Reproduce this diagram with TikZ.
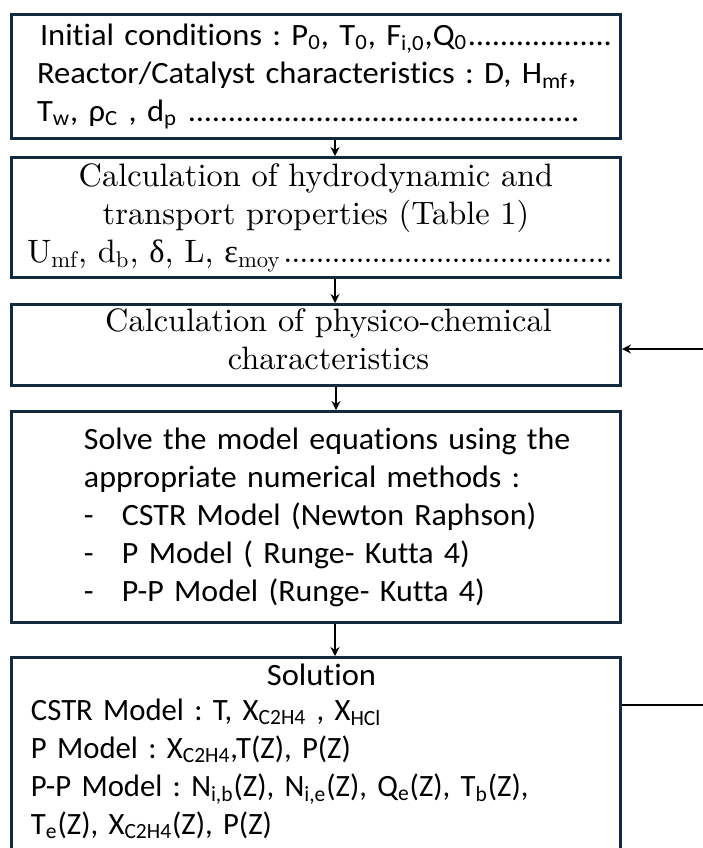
\documentclass[tikz,border=0pt]{standalone}
\usepackage{fontspec}
\usepackage{tikz}
\usetikzlibrary{positioning, arrows.meta}
\newfontfamily\boxsf{Carlito}[FakeStretch=1.05, Ligatures=NoCommon]
\newfontfamily\solvesf{Carlito}[FakeStretch=1.03, Ligatures=NoCommon]
\newfontfamily\solsf{Carlito}[FakeStretch=0.99, Ligatures=NoCommon]
\newfontfamily\lmten{lmroman10-regular}[Extension=.otf]
\newfontfamily\grk{Liberation Serif}
\definecolor{navy}{HTML}{13293D}
\newcommand\sansbody{\boxsf\fontsize{15.5}{19}\selectfont\frenchspacing}
\newcommand\solvebody{\solvesf\fontsize{15.5}{19}\selectfont\frenchspacing}
\newcommand\solbody{\solsf\fontsize{15.5}{19}\selectfont\frenchspacing}
\newcommand\serifbody{\lmten\fontsize{16.2}{19}\selectfont\frenchspacing}
\newcommand\dotrow{\leaders\hbox to 4pt{\hss.\hss}\hfill\null}
\tikzset {
    >={Stealth[length=4.5pt,width=4.5pt]},
    node distance=8pt,
    box/.style={draw=navy, line width=1.5pt, text width=296pt,
        inner xsep=4.25pt, inner ysep=1pt, minimum width=304.5pt},
    flow/.style={->, line width=1pt}
}

\begin{document}
\begin{tikzpicture}
    \useasboundingbox (0,0) rectangle (351.5pt,-424pt);

    \node[box, anchor=north west, minimum height=62pt, align=left, font=\sansbody] (init) at (5pt,-6.5pt)
        {\leftskip=8.5pt \hspace*{1.5pt}Initial conditions : P\textsubscript{0}, T\textsubscript{0}, F\textsubscript{i,0},Q\textsubscript{0}\dotrow\\
         Reactor/Catalyst characteristics : D, H\textsubscript{mf},\\
         T\textsubscript{w}, ρ\textsubscript{C} , d\textsubscript{p}\,\dotrow\hspace*{14pt}\par};
    \node[box, below=of init, minimum height=60pt, align=center, font=\serifbody] (hydro)
        {Calculation of hydrodynamic and\hspace*{6.5pt}\\
         transport properties (Table 1)\hspace*{6.5pt}\\
         \hspace*{3.5pt}U\textsubscript{mf}, d\textsubscript{b}, {\grk δ}, L, {\grk ε}\textsubscript{moy}\dotrow\hspace*{16.5pt}};
    \node[box, below=12pt of hydro, minimum height=40.5pt, align=center, font=\serifbody] (phys)
        {\hspace*{12.5pt}Calculation of physico-chemical\\
         \hspace*{12.5pt}characteristics\strut};
    \node[box, below=11.5pt of phys, minimum height=105.5pt, align=left, font=\solvebody] (solve)
        {\leftskip=32pt Solve the model equations using the\\
         appropriate numerical methods :\\
         \makebox[19pt][l]{-}CSTR Model (Newton Raphson)\\
         \makebox[19pt][l]{-}P Model ( Runge- Kutta 4)\\
         \makebox[19pt][l]{-}P-P Model (Runge- Kutta 4)\par};
    \node[box, below=16pt of solve, inner ysep=3pt, align=left, font=\solbody] (sol)
        {\leftskip=5.5pt \hfill{\sansbody Solution}\hfill\null\\[-1.5pt]
         CSTR Model : T, X\textsubscript{C2H4} , X\textsubscript{HCl}\\
         P Model : X\textsubscript{C2H4},T(Z), P(Z)\\
         P-P Model :\ N\textsubscript{i,b}(Z), N\textsubscript{i,e}(Z), Q\textsubscript{e}(Z), T\textsubscript{b}(Z),\\
         T\textsubscript{e}(Z), X\textsubscript{C2H4}(Z), P(Z)\\[30pt]
         \mbox{}\par};

    \coordinate (loopin) at (353pt,-174.5pt);
    \coordinate (loopout) at (353pt,-352.5pt);

    \draw[flow] ([xshift=9.5pt]init.south) -- ([xshift=9.5pt]init.south |- hydro.north);
    \draw[flow] ([xshift=9.5pt]hydro.south) -- ([xshift=9.5pt]hydro.south |- phys.north);
    \draw[flow] ([xshift=10pt]phys.south) -- ([xshift=10pt]phys.south |- solve.north);
    \draw[flow] ([xshift=9.5pt]solve.south) -- ([xshift=9.5pt]solve.south |- sol.north);
    \draw[flow] (loopin) -- (loopin -| phys.east);
    \draw[line width=1pt] (loopout -| sol.east) -- (loopout);
\end{tikzpicture}
\end{document}
